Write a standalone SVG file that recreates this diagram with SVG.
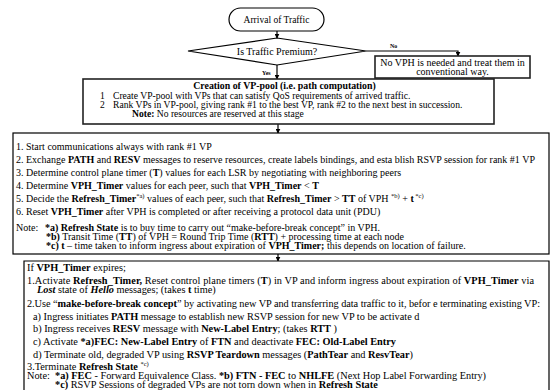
<svg xmlns="http://www.w3.org/2000/svg" width="554" height="390" viewBox="0 0 554 390">
  <style>
    text { font-family: "Liberation Serif", "Times New Roman", serif; fill: #000; }
    .s2 { font-size: 10px; }
    .s3 { font-size: 10.3px; }
    .sp { font-size: 9.6px; }
    .b { font-weight: bold; }
    .bi { font-weight: bold; font-style: italic; }
    .sup { font-size: 6.5px; }
    .lbl { font-size: 6px; font-weight: bold; }
    .box { fill: #fff; stroke: #000; stroke-width: 1.2; }
    .thick { fill: #fff; stroke: #222; stroke-width: 1.6; }
    .edge { fill: none; stroke: #000; stroke-width: 1.2; }
  </style>
  <defs>
    <marker id="arrow" viewBox="0 0 8 8" refX="7" refY="4" markerWidth="5" markerHeight="5" orient="auto" markerUnits="userSpaceOnUse">
      <path d="M0,0 L8,4 L0,8 z" fill="#000"/>
    </marker>
  </defs>
  <rect width="554" height="390" fill="#fff"/>

  <!-- connectors -->
  <g id="connectors">
    <line class="edge" x1="277" y1="31" x2="277" y2="38" marker-end="url(#arrow)"/>
    <line class="edge" x1="277" y1="65" x2="277" y2="79" marker-end="url(#arrow)"/>
    <polyline class="edge" points="366,51 458,51 458,56" marker-end="url(#arrow)"/>
    <line class="edge" x1="278" y1="124" x2="278" y2="133" marker-end="url(#arrow)"/>
    <line class="edge" x1="278" y1="254" x2="278" y2="261" marker-end="url(#arrow)"/>
    <text class="lbl" x="390" y="48">No</text>
    <text class="lbl" x="262" y="75">Yes</text>
  </g>

  <!-- start terminal -->
  <g id="start">
    <rect class="box" x="229" y="8" width="95" height="23" rx="11.5" ry="11.5"/>
    <text x="276.5" y="22.5" text-anchor="middle" font-size="9.5">Arrival of Traffic</text>
  </g>

  <!-- decision -->
  <g id="decision">
    <polygon class="box" points="277,38 366,51 277,65 188,51"/>
    <text x="277" y="55" text-anchor="middle" font-size="10">Is Traffic Premium?</text>
  </g>

  <!-- non-premium branch -->
  <g id="no-vph">
    <rect class="thick" x="375" y="56" width="155" height="22"/>
    <text x="452.5" y="66" text-anchor="middle" font-size="10">No VPH is needed and treat them in</text>
    <text x="452.5" y="75" text-anchor="middle" font-size="10">conventional way.</text>
  </g>

  <!-- VP-pool creation -->
  <g id="vp-pool">
    <rect class="thick" x="83" y="79" width="411" height="45"/>
    <text class="b" x="284.5" y="89" text-anchor="middle" font-size="9.85">Creation of VP-pool (i.e. path computation)</text>
    <text class="sp" x="100" y="98.5">1</text>
    <text class="sp" x="113" y="98.5">Create VP-pool with VPs that can satisfy QoS requirements of arrived traffic.</text>
    <text class="sp" x="100" y="107.5">2</text>
    <text class="sp" x="113" y="107.5">Rank VPs in VP-pool, giving rank #1 to the best VP, rank #2 to the next best in  succession.</text>
    <text class="sp" x="132" y="116.5"><tspan class="b">Note:</tspan> No resources are reserved at this stage</text>
  </g>

  <!-- session setup -->
  <g id="setup">
    <rect class="box" x="13" y="133" width="536" height="121"/>
    <text class="s2" x="16" y="150">1. Start communications always with rank #1 VP</text>
    <text class="s2" x="16" y="163" textLength="519" lengthAdjust="spacing">2. Exchange <tspan class="b">PATH</tspan> and <tspan class="b">RESV</tspan> messages to reserve resources, create labels bindings, and esta blish RSVP session for rank #1 VP</text>
    <text class="s2" x="16" y="176">3. Determine control plane timer (<tspan class="b">T</tspan>) values for each LSR by negotiating with neighboring peers</text>
    <text class="s2" x="16" y="189">4. Determine <tspan class="b">VPH_Timer</tspan> values for each peer, such that  <tspan class="b">VPH_Timer</tspan> &lt; <tspan class="b">T</tspan></text>
    <text class="s2" x="16" y="202">5. Decide the <tspan class="b">Refresh_Timer</tspan><tspan class="sup" dy="-4">*a)</tspan><tspan dy="4"> values of each peer, such that </tspan><tspan class="b">Refresh_Timer</tspan> &gt; <tspan class="b">TT</tspan> of VPH <tspan class="sup" dy="-4">*b)</tspan><tspan dy="4"> +  </tspan><tspan class="b">t</tspan><tspan class="sup" dy="-4"> *c)</tspan></text>
    <text class="s2" x="16" y="215">6. Reset <tspan class="b">VPH_Timer</tspan> after VPH is completed or after receiving  a protocol data unit  (PDU)</text>
    <text class="s2" x="16" y="231">Note:</text>
    <text class="s2" x="45" y="231"><tspan class="b">*a) Refresh State</tspan> is to buy time to carry out “make-before-break concept” in VPH.</text>
    <text class="s2" x="46" y="240"><tspan class="b">*b)</tspan> Transit Time (<tspan class="b">TT</tspan>) of VPH = Round Trip Time (<tspan class="b">RTT</tspan>) + processing time at each node</text>
    <text class="s2" x="46" y="249"><tspan class="b">*c) t</tspan> – time taken to inform ingress about expiration of <tspan class="b">VPH_Timer;</tspan> this depends on location of failure.</text>
  </g>

  <!-- VPH handling on timer expiry -->
  <g id="expiry">
    <polyline class="box" points="24,392 24,261 549,261 549,392"/>
    <text class="s3" x="27" y="271">If <tspan class="b">VPH_Timer</tspan> expires;</text>
    <text class="s3" x="27" y="284" textLength="507" lengthAdjust="spacing">1.Activate  <tspan class="b">Refresh_Timer,</tspan> Reset control plane timers (<tspan class="b">T</tspan>) in VP and inform ingress about expiration of <tspan class="b">VPH_Timer</tspan> via</text>
    <text class="s3" x="37" y="293"><tspan class="bi">Lost</tspan> state of <tspan class="bi">Hello</tspan>  messages; (takes <tspan class="b">t</tspan> time)</text>
    <text class="s3" x="27" y="307" textLength="513" lengthAdjust="spacing">2.Use “<tspan class="b">make-before-break concept</tspan>” by activating new VP and transferring data traffic to it, befor e terminating existing VP:</text>
    <text class="s3" x="33" y="320">a) Ingress initiates <tspan class="b">PATH</tspan> message to establish new RSVP session for new VP to be activate d</text>
    <text class="s3" x="33" y="332">b) Ingress receives <tspan class="b">RESV</tspan> message with <tspan class="b">New-Label Entry</tspan>; (takes <tspan class="b">RTT</tspan> )</text>
    <text class="s3" x="33" y="345">c) Activate <tspan class="b">*a)FEC: New-Label Entry</tspan> of <tspan class="b">FTN</tspan> and deactivate <tspan class="b">FEC: Old-Label Entry</tspan></text>
    <text class="s3" x="33" y="358">d) Terminate old, degraded VP using <tspan class="b">RSVP Teardown</tspan> messages (<tspan class="b">PathTear</tspan> and <tspan class="b">ResvTear</tspan>)</text>
    <text class="s3" x="27" y="370">3.Terminate <tspan class="b">Refresh State</tspan> <tspan class="sup" dy="-4">*c)</tspan></text>
    <text class="s3" x="27" y="379">Note:</text>
    <text class="s3" x="55" y="379"><tspan class="b">*a) FEC</tspan> - Forward Equivalence Class. <tspan class="b">*b) FTN - FEC</tspan> to <tspan class="b">NHLFE</tspan> (Next Hop Label Forwarding Entry)</text>
    <text class="s3" x="55" y="388"><tspan class="b">*c)</tspan> RSVP Sessions of degraded VPs are not torn down when in <tspan class="b">Refresh State</tspan></text>
  </g>
</svg>
